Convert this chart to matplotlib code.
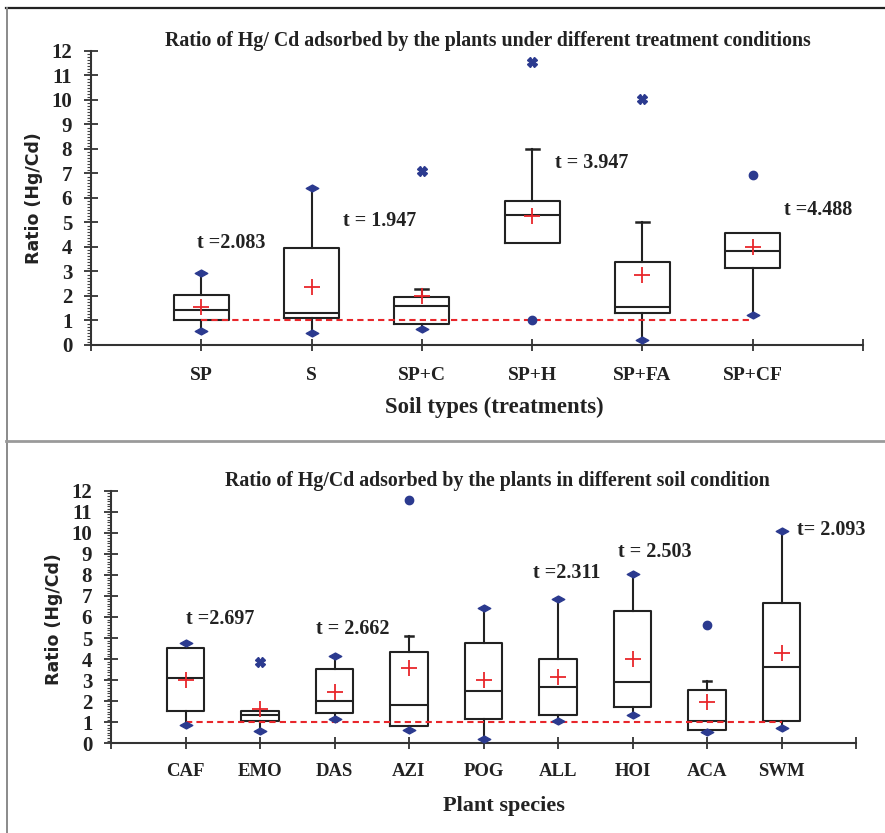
import matplotlib
matplotlib.use("Agg")
import matplotlib.pyplot as plt
from matplotlib.ticker import FixedLocator, AutoMinorLocator
from matplotlib.path import Path
from matplotlib.lines import Line2D
import numpy as np

# ---------------- data: top panel (soil treatments) ----------------
top_categories = ["SP", "S", "SP+C", "SP+H", "SP+FA", "SP+CF"]
top_q1 = [1.00, 1.12, 0.84, 4.18, 1.29, 3.14]
top_median = [1.43, 1.32, 1.59, 5.31, 1.56, 3.85]
top_q3 = [2.03, 3.97, 1.95, 5.87, 3.38, 4.58]
top_mean = [1.54, 2.36, 2.00, 5.26, 2.84, 4.00]
top_min = [0.56, 0.50, 0.64, 4.18, 0.20, 1.21]
top_max = [2.93, 6.42, 2.27, 8.02, 5.04, 4.58]
top_min_marked = [True, True, True, False, True, True]
top_max_marked = [True, True, False, False, False, False]
top_out_cat = ["SP+C", "SP+H", "SP+H", "SP+FA", "SP+CF"]
top_out_val = [7.12, 11.55, 1.02, 10.04, 6.92]
top_out_kind = ["x", "x", "o", "x", "o"]
top_t_text = ["t =2.083", "t = 1.947", "t = 3.947", "t =4.488"]
top_t_x = [1.27, 2.62, 4.54, 6.59]
top_t_y = [4.16, 5.06, 7.44, 5.51]

# ---------------- data: bottom panel (plant species) ----------------
bot_categories = ["CAF", "EMO", "DAS", "AZI", "POG", "ALL", "HOI", "ACA", "SWM"]
bot_q1 = [1.55, 1.07, 1.44, 0.84, 1.14, 1.34, 1.71, 0.63, 1.07]
bot_median = [3.09, 1.34, 2.01, 1.80, 2.48, 2.66, 2.90, 1.07, 3.61]
bot_q3 = [4.54, 1.55, 3.54, 4.35, 4.78, 3.99, 6.28, 2.53, 6.68]
bot_mean = [3.01, 1.61, 2.42, 3.59, 3.01, 3.13, 3.99, 1.95, 4.30]
bot_min = [0.87, 0.60, 1.14, 0.63, 0.20, 1.07, 1.34, 0.55, 0.71]
bot_max = [4.78, 1.55, 4.15, 5.10, 6.44, 6.87, 8.04, 2.96, 10.09]
bot_min_marked = [True, True, True, True, True, True, True, True, True]
bot_max_marked = [True, False, True, False, True, True, True, False, True]
bot_out_cat = ["EMO", "AZI", "ACA"]
bot_out_val = [3.88, 11.56, 5.62]
bot_out_kind = ["x", "o", "o"]
bot_t_text = ["t =2.697", "t = 2.662", "t =2.311", "t = 2.503", "t= 2.093"]
bot_t_x = [1.46, 3.24, 6.11, 7.30, 9.67]
bot_t_y = [5.89, 5.42, 8.08, 9.10, 10.13]

threshold = 1.0
y_ticks = list(range(0, 13))

# ---------------- style ----------------
DARK = "#222222"
BLUE = "#2B3A8F"
RED = "#E8262B"
SERIF = ["Liberation Serif", "DejaVu Serif"]
SANS = ["DejaVu Sans"]

wide_diamond = Path([(-1, 0), (0, 0.55), (1, 0), (0, -0.55), (-1, 0)],
                    [Path.MOVETO, Path.LINETO, Path.LINETO, Path.LINETO, Path.CLOSEPOLY])

fig = plt.figure(figsize=(8.85, 8.33), dpi=100)
ax1 = fig.add_axes([91 / 885, 1 - 345 / 833, (863 - 91) / 885, (345 - 51) / 833])
ax2 = fig.add_axes([111 / 885, 1 - 743.3 / 833, (856 - 111) / 885, (743.3 - 490.7) / 833])

# frame lines around the figure
fig.add_artist(Line2D([6 / 885, 1], [1 - 8 / 833] * 2, transform=fig.transFigure, color="#222222", lw=1.6))
fig.add_artist(Line2D([6.5 / 885] * 2, [0, 1 - 8 / 833], transform=fig.transFigure, color="#8a8a8a", lw=1.4))
fig.add_artist(Line2D([6 / 885, 1], [1 - 441 / 833] * 2, transform=fig.transFigure, color="#9a9a9a", lw=2.0))


def draw_panel(ax, cats, q1, med, q3, mean, vmin, vmax, min_mk, max_mk,
               out_cat, out_val, out_kind, t_text, t_x, t_y,
               title, title_xy, xlabel, xlabel_xy, xlabel_fs, ylabel_x, ylabel_y, tick_fs, xtick_pad):
    n = len(cats)
    pos = np.arange(1, n + 1)
    stats = []
    for i in range(n):
        stats.append(dict(med=med[i], q1=q1[i], q3=q3[i], whislo=vmin[i], whishi=vmax[i],
                          mean=mean[i], fliers=[]))
    art = ax.bxp(stats, positions=pos, widths=0.5, capwidths=0.12, showmeans=True,
                 showfliers=False, patch_artist=False,
                 boxprops=dict(color=DARK, lw=1.5),
                 medianprops=dict(color=DARK, lw=1.5),
                 whiskerprops=dict(color=DARK, lw=1.5),
                 capprops=dict(color=DARK, lw=1.8),
                 meanprops=dict(marker="+", markersize=11, markeredgewidth=1.3,
                                markeredgecolor=RED, color=RED),
                 manage_ticks=False, zorder=3)
    for i in range(n):
        lo_cap, hi_cap = art["caps"][2 * i], art["caps"][2 * i + 1]
        lo_cap.set_visible((not min_mk[i]) and vmin[i] < q1[i])
        hi_cap.set_visible((not max_mk[i]) and vmax[i] > q3[i])
    for m in art["means"]:
        m.set_zorder(5)
    # threshold line
    ax.plot([pos[0], pos[-1]], [threshold, threshold], color=RED, lw=1.5,
            ls=(0, (3, 2)), zorder=4)
    # min / max diamonds
    for i in range(n):
        if min_mk[i]:
            ax.plot(pos[i], vmin[i], marker=wide_diamond, markersize=9, color=BLUE,
                    ls="none", zorder=6, clip_on=False)
        if max_mk[i]:
            ax.plot(pos[i], vmax[i], marker=wide_diamond, markersize=9, color=BLUE,
                    ls="none", zorder=6, clip_on=False)
    # outliers
    for c, v, k in zip(out_cat, out_val, out_kind):
        x = cats.index(c) + 1
        if k == "x":
            ax.plot(x, v, marker="X", markersize=7, color=BLUE, ls="none", zorder=6, clip_on=False)
        else:
            ax.plot(x, v, marker="o", markersize=6, color=BLUE, ls="none", zorder=6, clip_on=False)
    # t annotations
    for s, x, y in zip(t_text, t_x, t_y):
        ax.text(x, y, s, ha="center", va="center", fontsize=14.5, fontweight="bold",
                family=SERIF, color=DARK)

    ax.set_xlim(0, n + 1)
    ax.set_ylim(0, 12)
    for sp in ("top", "right"):
        ax.spines[sp].set_visible(False)
    for sp in ("left", "bottom"):
        ax.spines[sp].set_color("#333333")
        ax.spines[sp].set_linewidth(1.5)
    ax.xaxis.set_major_locator(FixedLocator(range(0, n + 2)))
    ax.set_xticklabels([""] + cats + [""])
    ax.yaxis.set_major_locator(FixedLocator(y_ticks))
    ax.set_yticklabels([str(v) for v in y_ticks])
    ax.yaxis.set_minor_locator(AutoMinorLocator(8))
    ax.tick_params(axis="x", which="major", direction="inout", length=9, width=1.3,
                   color="#333333", pad=xtick_pad, labelsize=tick_fs, labelcolor=DARK)
    ax.tick_params(axis="y", which="major", direction="inout", length=10, width=1.3,
                   color="#333333", pad=8.5, labelsize=15, labelcolor=DARK)
    ax.tick_params(axis="y", which="minor", direction="out", length=3, width=0.8, color="#444444")
    for lab in ax.get_xticklabels() + ax.get_yticklabels():
        lab.set_fontweight("bold")
        lab.set_family(SERIF)

    ax.set_title(title, fontsize=14.3, fontweight="bold", family=SERIF, color=DARK)
    ax.title.set_position(title_xy)
    ax.title.set_va("center")
    ax.title.set_transform(ax.transAxes)
    ax.set_xlabel(xlabel, fontsize=xlabel_fs, fontweight="bold", family=SERIF, color=DARK)
    ax.xaxis.set_label_coords(*xlabel_xy)
    ax.xaxis.label.set_va("center")
    ax.set_ylabel("Ratio (Hg/Cd)", fontsize=12.5, fontweight="bold", family=SANS, color=DARK)
    ax.yaxis.set_label_coords(ylabel_x, ylabel_y)
    ax.yaxis.label.set_va("center")


draw_panel(ax1, top_categories, top_q1, top_median, top_q3, top_mean, top_min, top_max,
           top_min_marked, top_max_marked, top_out_cat, top_out_val, top_out_kind,
           top_t_text, top_t_x, top_t_y,
           "Ratio of Hg/ Cd adsorbed by the plants under different treatment conditions",
           (0.514, 1.034), "Soil types (treatments)", (0.522, -0.211), 16.4,
           -0.0738, 0.5, 14, 11)

draw_panel(ax2, bot_categories, bot_q1, bot_median, bot_q3, bot_mean, bot_min, bot_max,
           bot_min_marked, bot_max_marked, bot_out_cat, bot_out_val, bot_out_kind,
           bot_t_text, bot_t_x, bot_t_y,
           "Ratio of Hg/Cd adsorbed by the plants in different soil condition",
           (0.518, 1.058), "Plant species", (0.527, -0.248), 16,
           -0.0765, 0.49, 13.5, 10)

fig.savefig("out.png", dpi=100)
